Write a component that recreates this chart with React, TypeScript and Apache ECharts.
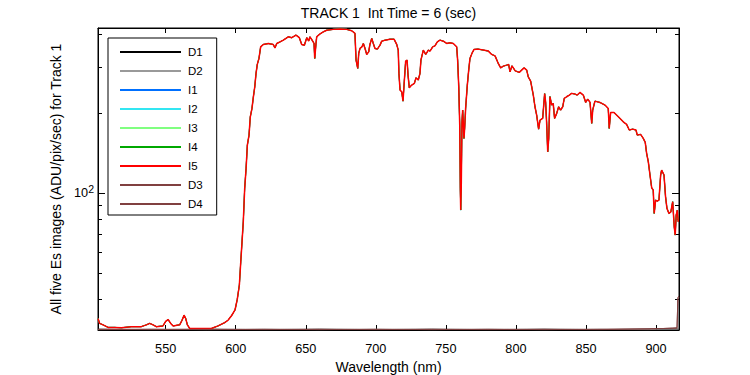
import React, { useEffect, useRef } from "react";
import * as echarts from "echarts";

const FONT = "'Liberation Sans', Arial, Helvetica, sans-serif";

const TITLE = "TRACK 1  Int Time = 6 (sec)";
const X_NAME = "Wavelength (nm)";
const Y_NAME = "All five Es images (ADU/pix/sec) for Track 1";

const X_TICKS = [550, 600, 650, 700, 750, 800, 850, 900];
const Y_MAJOR = [100];
const Y_MINOR = [40, 50, 60, 70, 80, 90, 200, 300, 400];
const X_MIN = 501.7;
const X_MAX = 916.4;
const Y_MIN = 30.5;
const Y_MAX = 421;

const SERIES_NAMES = ["D1", "D2", "I1", "I2", "I3", "I4", "I5", "D3", "D4"];
const SERIES_COLORS = [
  "#000000",
  "#999999",
  "#0070ff",
  "#33e6f2",
  "#80ff80",
  "#00a800",
  "#ff0000",
  "#804040",
  "#804040",
];

// Illuminated spectrum, wavelength in nm
const WL = [
  501.7, 502.9, 505.3, 508.9, 513.6, 518.4, 525.5, 532.6, 536.2, 538.6, 541.0, 543.3, 548.1, 550.0,
  551.7, 553.6, 555.3, 560.0, 561.7, 563.1, 564.3, 565.5, 567.2, 582.6, 587.4, 592.1, 594.5, 597.1,
  599.5, 601.1, 602.6, 603.6, 604.5, 605.4, 606.4, 607.4, 608.3, 609.5, 610.4, 611.6, 612.6, 613.6,
  614.5, 615.4, 616.6, 617.8, 619.7, 623.3, 626.8, 628.0, 629.3, 631.6, 634.0, 637.5, 640.0, 643.0,
  645.4, 647.1, 649.0, 650.7, 652.1, 653.0, 654.5, 655.9, 656.4, 657.3, 657.8, 660.2, 662.5, 664.9,
  669.7, 674.4, 679.2, 682.8, 685.1, 685.9, 687.1, 687.8, 688.7, 690.1, 691.1, 692.3, 693.5, 694.9,
  695.8, 697.1, 698.2, 699.4, 701.1, 703.0, 704.2, 706.6, 710.1, 713.0, 714.9, 716.0, 716.5, 717.3,
  718.5, 719.4, 720.3, 721.3, 722.3, 723.0, 723.9, 725.6, 727.5, 728.7, 730.3, 731.5, 732.2, 733.9,
  735.6, 737.5, 738.7, 740.6, 742.2, 743.9, 745.8, 748.2, 750.6, 752.9, 755.3, 757.7, 758.4, 759.2,
  759.9, 760.3, 760.6, 761.0, 761.5, 762.0, 762.4, 762.9, 763.4, 764.1, 765.3, 766.3, 767.2, 768.6,
  770.1, 773.1, 776.7, 780.3, 782.7, 785.1, 787.4, 789.1, 791.0, 793.4, 794.8, 795.8, 797.2, 799.5,
  802.4, 804.1, 805.8, 807.7, 808.8, 810.5, 812.4, 813.6, 814.8, 816.2, 817.2, 819.1, 820.5, 821.2,
  821.9, 822.7, 823.4, 824.3, 825.5, 826.6, 827.6, 829.1, 830.5, 831.9, 833.4, 834.5, 836.2, 838.1,
  839.8, 842.2, 843.8, 845.7, 848.1, 849.8, 851.2, 852.9, 854.1, 854.8, 856.4, 859.9, 863.6, 865.9,
  866.6, 867.6, 870.0, 873.1, 876.6, 879.0, 880.9, 883.3, 885.7, 886.6, 889.0, 890.9, 892.3, 893.3,
  894.5, 895.7, 896.9, 898.0, 898.7, 899.7, 900.9, 902.1, 903.3, 904.0, 905.7, 906.8, 907.8, 909.2,
  910.6, 911.9, 913.0, 913.7, 914.4, 915.2, 915.9,
];

// ADU/pix/sec for the five illuminated images (they coincide at this resolution)
const ES = [
  33.7, 32.3, 31.9, 31.2, 31.2, 31.1, 31.4, 31.4, 31.9, 32.3, 31.9, 31.4, 31.6, 32.9,
  33.4, 32.3, 31.6, 31.9, 33.2, 34.7, 33.7, 31.9, 30.9, 30.9, 31.6, 32.5, 33.2, 34.6,
  36.3, 39.8, 45.1, 55.2, 65.6, 78.1, 104.4, 124.3, 152.1, 165.9, 194.4, 209.2, 231.3, 252.6,
  283.8, 306.9, 323.2, 357.3, 364.8, 367.9, 364.8, 354, 368, 373, 379, 390, 387, 396,
  387, 365, 362.5, 387, 376, 390, 379, 368, 323, 368, 390, 400, 407, 413,
  416, 417, 416, 411, 402, 318.5, 296.3, 337.5, 352.5, 357.5, 368, 352.5, 334.6, 342,
  365, 384.6, 368, 352.5, 350.4, 362.7, 375.5, 378.8, 382, 382, 365, 347.4, 283.5, 245.3,
  241.8, 223, 263.8, 315.7, 318.5, 279.5, 250.3, 256.3, 260.1, 273.1, 267.7, 283.5, 318.5, 347.4,
  334.6, 347.4, 344.4, 357.5, 360.6, 373.4, 378.8, 375.5, 368, 370, 368, 357.5, 318.5, 252.5,
  181, 104.4, 86.5, 107.5, 186.3, 206.2, 186.3, 161.2, 175.9, 209.3, 256.3, 292, 323.2, 337.5,
  349.4, 350.4, 347.4, 344.4, 334.6, 330.5, 309.4, 297.8, 302.2, 304.9, 306.7, 287.6, 303, 290.1,
  286.2, 292, 297.8, 292, 275.4, 265.4, 235, 212.3, 197.5, 174.8, 189, 192, 238, 221,
  186, 143.5, 161, 232, 215.4, 218.6, 191.9, 200.4, 212.3, 206.2, 212.3, 228.3, 231.6, 235,
  238.5, 237, 235, 240.5, 235, 220.5, 226.9, 220.7, 183.8, 206.2, 223, 220.5, 215.4, 209.3,
  175.9, 202, 202, 194.5, 186.3, 182.2, 173.4, 174.8, 173.4, 166, 167, 161.2, 155.8, 141.6,
  131.6, 117.3, 105, 102.9, 84, 94.3, 93.5, 94.3, 117.3, 122.4, 117.3, 97.1, 87.8, 84,
  85.2, 93, 74.8, 69.6, 82.8, 86.5, 78.1,
];

// Dark images, hugging the bottom of the axis
const DARK_WL = [501.7, 540, 580, 620, 660, 700, 740, 780, 820, 860, 895, 905, 912, 915.0, 915.6, 916.4];
const D1_VAL = [30.7, 30.6, 30.7, 30.6, 30.7, 30.6, 30.7, 30.6, 30.7, 30.6, 30.7, 30.8, 30.8, 30.8, 30.8, 30.8];
const D2_VAL = [30.6, 30.7, 30.6, 30.7, 30.6, 30.7, 30.6, 30.7, 30.6, 30.7, 30.6, 30.8, 30.8, 30.8, 30.8, 30.8];
const D3_VAL = [30.7, 30.6, 30.7, 30.6, 30.7, 30.6, 30.7, 30.6, 30.7, 30.6, 30.8, 30.9, 31.0, 31.0, 40.5, 41];
const D4_VAL = [30.6, 30.7, 30.6, 30.7, 30.6, 30.7, 30.6, 30.7, 30.6, 30.7, 30.8, 30.9, 31.0, 31.1, 40.0, 40.5];

export default function App() {
  const ref = useRef<HTMLDivElement>(null);

  useEffect(() => {
    if (!ref.current) return;
    const chart = echarts.init(ref.current, null, { renderer: "svg" });

    const spectrum = WL.map((w, i) => [w, ES[i]]);
    const dark = (vals: number[]) => DARK_WL.map((w, i) => [w, vals[i]]);
    const dataByName: Record<string, number[][]> = {
      D1: dark(D1_VAL),
      D2: dark(D2_VAL),
      I1: spectrum,
      I2: spectrum,
      I3: spectrum,
      I4: spectrum,
      I5: spectrum,
      D3: dark(D3_VAL),
      D4: dark(D4_VAL),
    };
    const widthByName: Record<string, number> = {
      D1: 1, D2: 1, I1: 1, I2: 1, I3: 1, I4: 1, I5: 1.5, D3: 1, D4: 1,
    };

    const tickLine = { color: "#000", width: 1 };

    const yBase = {
      type: "log" as const,
      logBase: 10,
      min: Y_MIN,
      max: Y_MAX,
      splitLine: { show: false },
      minorTick: { show: false },
    };

    const option: any = {
      animation: false,
      backgroundColor: "#fff",
      textStyle: { fontFamily: FONT },
      grid: {
        left: 98,
        top: 28,
        right: 71,
        bottom: 45,
        outerBoundsMode: "none",
        containLabel: false,
        show: true,
        borderColor: "#000",
        borderWidth: 1,
        backgroundColor: "transparent",
      },
      graphic: [
        {
          type: "text",
          x: 388.5,
          y: 13,
          style: {
            text: TITLE,
            fontSize: 14,
            fontFamily: FONT,
            fill: "#000",
            textAlign: "center",
            textVerticalAlign: "middle",
          },
        },
      ],
      legend: {
        orient: "vertical",
        left: 108,
        top: 38,
        itemWidth: 61,
        itemHeight: 14,
        itemGap: 7.0,
        padding: [8, 14, 5, 11],
        borderColor: "#000",
        borderWidth: 1,
        borderRadius: 0,
        backgroundColor: "#fff",
        selectedMode: false,
        itemStyle: { opacity: 0, borderWidth: 0 },
        textStyle: { fontSize: 11.5, color: "#000", fontFamily: FONT, padding: [0, 0, 0, 2] },
        data: SERIES_NAMES,
      },
      xAxis: [
        {
          type: "value",
          position: "bottom",
          min: X_MIN,
          max: X_MAX,
          splitLine: { show: false },
          axisLine: { show: true, lineStyle: tickLine },
          axisTick: { show: true, inside: true, length: 5, customValues: X_TICKS, lineStyle: tickLine },
          axisLabel: { show: true, customValues: X_TICKS, color: "#000", fontSize: 12.7, margin: 12, fontFamily: FONT },
          name: X_NAME,
          nameLocation: "middle",
          nameGap: 30,
          nameTextStyle: { fontSize: 14, color: "#000", fontFamily: FONT },
        },
        {
          type: "value",
          position: "top",
          min: X_MIN,
          max: X_MAX,
          splitLine: { show: false },
          axisLine: { show: true, lineStyle: tickLine },
          axisTick: { show: true, inside: true, length: 5, customValues: X_TICKS, lineStyle: tickLine },
          axisLabel: { show: false },
        },
      ],
      yAxis: [
        {
          ...yBase,
          position: "left",
          axisLine: { show: true, lineStyle: tickLine },
          axisTick: { show: true, inside: true, length: 7, customValues: Y_MAJOR, lineStyle: tickLine },
          axisLabel: {
            show: true,
            customValues: Y_MAJOR,
            margin: 4,
            color: "#000",
            formatter: (v: number) => `{b|10}{s|${Math.round(Math.log10(v))}}`,
            rich: {
              b: { fontSize: 12.7, fontFamily: FONT, color: "#000", lineHeight: 22, verticalAlign: "middle" },
              s: { fontSize: 10.5, fontFamily: FONT, color: "#000", lineHeight: 22, verticalAlign: "middle", padding: [0, 0, 9, 0] },
            },
          },
          name: Y_NAME,
          nameLocation: "middle",
          nameGap: 31,
          nameRotate: 90,
          nameTextStyle: { fontSize: 14, color: "#000", fontFamily: FONT },
        },
        {
          ...yBase,
          position: "left",
          axisLine: { show: false },
          axisTick: { show: true, inside: true, length: 4, customValues: Y_MINOR, lineStyle: tickLine },
          axisLabel: { show: false },
        },
        {
          ...yBase,
          position: "right",
          axisLine: { show: true, lineStyle: tickLine },
          axisTick: { show: true, inside: true, length: 7, customValues: Y_MAJOR, lineStyle: tickLine },
          axisLabel: { show: false },
        },
        {
          ...yBase,
          position: "right",
          axisLine: { show: false },
          axisTick: { show: true, inside: true, length: 4, customValues: Y_MINOR, lineStyle: tickLine },
          axisLabel: { show: false },
        },
      ],
      series: SERIES_NAMES.map((name, i) => ({
        name,
        type: "line",
        xAxisIndex: 0,
        yAxisIndex: 0,
        data: dataByName[name],
        symbol: "none",
        showSymbol: false,
        clip: true,
        silent: true,
        lineStyle: { color: SERIES_COLORS[i], width: widthByName[name] },
        itemStyle: { color: SERIES_COLORS[i] },
        emphasis: { disabled: true },
      })),
    };

    chart.setOption(option);
    return () => chart.dispose();
  }, []);

  return (
    <div
      ref={ref}
      style={{ position: "fixed", left: 0, top: 0, width: 750, height: 375, background: "#fff" }}
    />
  );
}
